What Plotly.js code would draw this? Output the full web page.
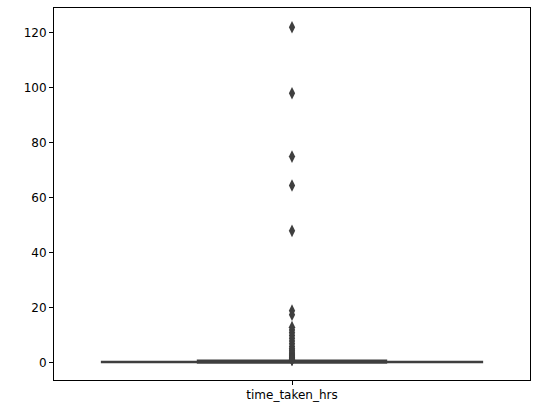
<!DOCTYPE html>
<html>
<head>
<script src="https://cdn.plot.ly/plotly-3.0.1.min.js"></script>
<style>body{margin:0}</style>
</head>
<body>
<div id="graph" style="width:552px;height:413px"></div>
<script>
// column name shown under the box
var category = 'time_taken_hrs';

// box summary (hours) - the box is squashed near zero
var q1 = [0.2];
var median = [0.3];
var q3 = [0.5];
var lowerFence = [0.0];
var upperFence = [0.95];

// outlier points
var outliers = [122, 98, 75, 64.5, 48, 19, 17.5, 13, 12, 11, 10, 9, 8, 7, 6, 5.2, 4.6, 4, 3.5, 3,
                2.6, 2.2, 1.9, 1.6, 1.4, 1.2, 1.05];

var dark = '#3f3f3f';

var traces = [
    {
        type: 'box',
        x: [0],
        q1: q1, median: median, q3: q3,
        lowerfence: lowerFence, upperfence: upperFence,
        width: 0.8,
        whiskerwidth: 0.5,
        fillcolor: '#3274a1',
        line: {color: dark, width: 1.5},
        boxpoints: false,
        hoverinfo: 'none'
    },
    {
        type: 'scatter',
        mode: 'markers',
        x: outliers.map(function() { return 0; }),
        y: outliers,
        marker: {symbol: 'diamond-tall', size: 9, color: dark, line: {width: 0}},
        hoverinfo: 'y'
    }
];

var layout = {
    width: 552, height: 413,
    margin: {l: 54, r: 22, t: 8, b: 33},
    showlegend: false,
    plot_bgcolor: 'white',
    paper_bgcolor: 'white',
    font: {family: 'DejaVu Sans', size: 12, color: '#000'},
    xaxis: {
        range: [-0.5, 0.5],
        tickmode: 'array', tickvals: [0], ticktext: [category],
        ticks: 'outside', ticklen: 4, tickcolor: '#000',
        showgrid: false, zeroline: false,
        showline: true, linecolor: '#000', linewidth: 1, mirror: true
    },
    yaxis: {
        range: [-6.2, 129],
        tickvals: [0, 20, 40, 60, 80, 100, 120],
        ticks: 'outside', ticklen: 4, tickcolor: '#000',
        showgrid: false, zeroline: false,
        showline: true, linecolor: '#000', linewidth: 1, mirror: true
    }
};

Plotly.newPlot('graph', traces, layout, {displayModeBar: false});
</script>
</body>
</html>
